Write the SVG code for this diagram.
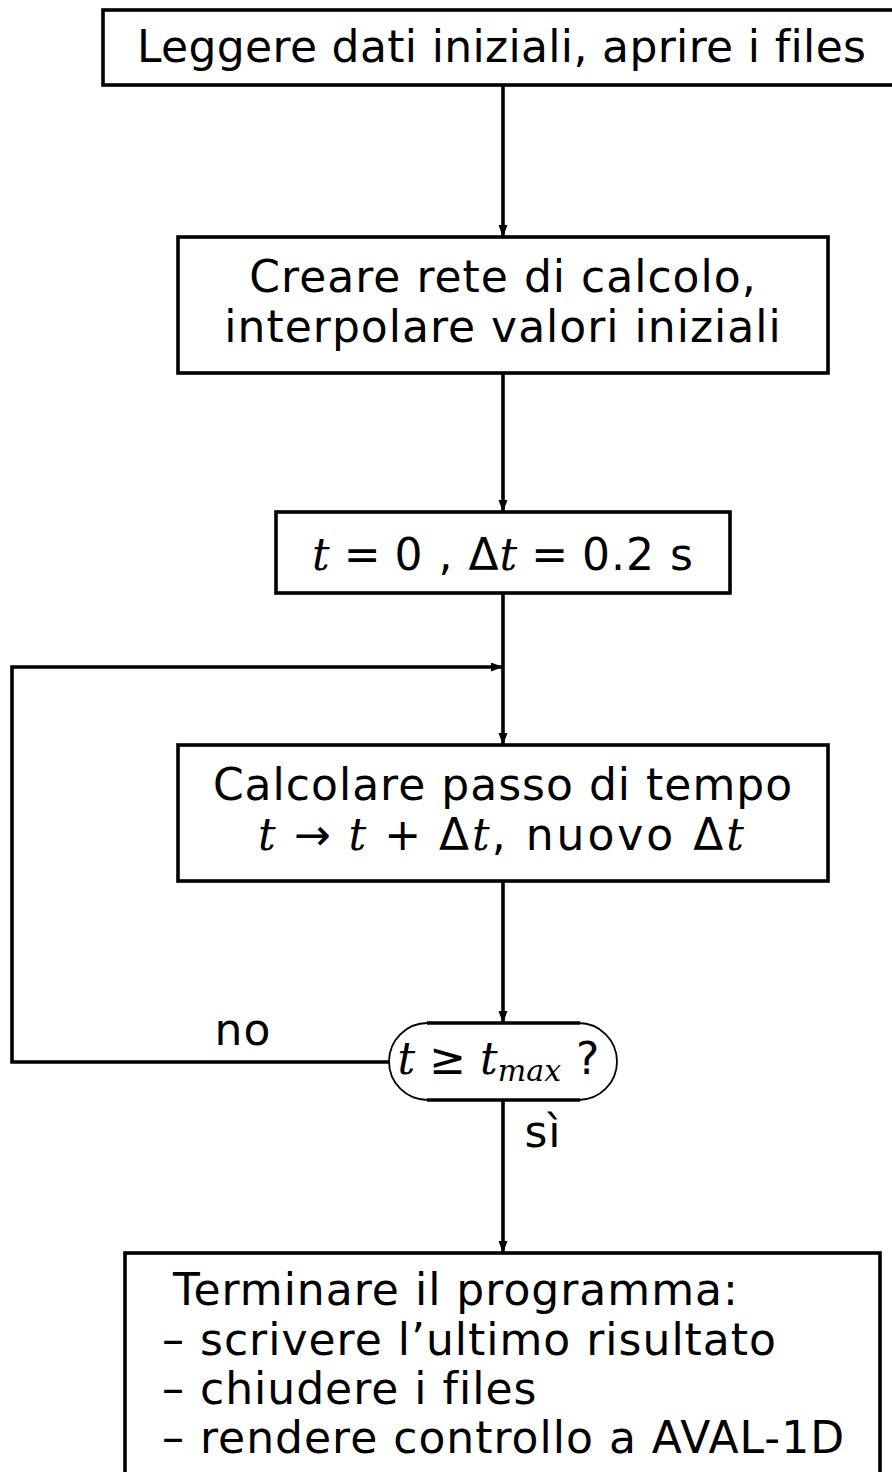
<svg xmlns="http://www.w3.org/2000/svg" width="892" height="1472" viewBox="0 0 892 1472">
<style>
.box{fill:none;stroke:#000;stroke-width:3.6}
.ln{fill:none;stroke:#000;stroke-width:3.6}
.t{font-family:"DejaVu Sans",sans-serif;font-size:44px;letter-spacing:1px;fill:#000}
.m{font-family:"DejaVu Serif",serif;font-style:italic;letter-spacing:0}
.o{font-family:"DejaVu Sans",sans-serif;letter-spacing:0}
</style>
<defs>
<marker id="ah" markerUnits="userSpaceOnUse" markerWidth="14" markerHeight="10" refX="12" refY="4.5" orient="auto">
<path d="M0,0 L12,4.5 L0,9 Z" fill="#000"/>
</marker>
</defs>
<rect width="892" height="1472" fill="#fff"/>
<g id="connectors">
<line class="ln" x1="503" y1="85" x2="503" y2="237" marker-end="url(#ah)"/>
<line class="ln" x1="503" y1="373" x2="503" y2="512" marker-end="url(#ah)"/>
<line class="ln" x1="503" y1="593" x2="503" y2="745" marker-end="url(#ah)"/>
<line class="ln" x1="503" y1="881" x2="503" y2="1023" marker-end="url(#ah)"/>
<line class="ln" x1="503" y1="1100" x2="503" y2="1253" marker-end="url(#ah)"/>
<path class="ln" d="M389,1062 H12 V667 H503" marker-end="url(#ah)"/>
<text class="t" x="243" y="1045" text-anchor="middle">no</text>
<text class="t" x="543" y="1147" text-anchor="middle">sì</text>
</g>
<g id="n1">
<rect class="box" x="103" y="10" width="800" height="75"/>
<text class="t" x="137" y="62" textLength="730">Leggere dati iniziali, aprire i files</text>
</g>
<g id="n2">
<rect class="box" x="178" y="237" width="650" height="136"/>
<text class="t" x="503" y="292" text-anchor="middle">Creare rete di calcolo,</text>
<text class="t" x="503" y="342" text-anchor="middle">interpolare valori iniziali</text>
</g>
<g id="n3">
<rect class="box" x="276" y="512" width="454" height="81"/>
<text class="t" x="503" y="570" text-anchor="middle"><tspan class="m">t</tspan><tspan class="o"> = </tspan>0 , Δ<tspan class="m">t</tspan><tspan class="o"> = </tspan>0.2 s</text>
</g>
<g id="n4">
<rect class="box" x="178" y="745" width="650" height="136"/>
<text class="t" x="503" y="800" text-anchor="middle">Calcolare passo di tempo</text>
<text class="t" x="501" y="850" text-anchor="middle" textLength="486"><tspan class="m">t</tspan><tspan class="o"> → </tspan><tspan class="m">t</tspan><tspan class="o"> + </tspan>Δ<tspan class="m">t</tspan>, nuovo Δ<tspan class="m">t</tspan></text>
</g>
<g id="n5">
<rect x="389" y="1023" width="228" height="77" rx="38.5" ry="38.5" fill="#fff" stroke="#000" stroke-width="1.8"/>
<line x1="427" y1="1023" x2="580" y2="1023" stroke="#000" stroke-width="3.6"/>
<line x1="427" y1="1100" x2="580" y2="1100" stroke="#000" stroke-width="3.6"/>
<text class="t" x="499" y="1074" text-anchor="middle"><tspan class="m">t</tspan><tspan class="o"> ≥ </tspan><tspan class="m">t</tspan><tspan class="m" font-size="30" dy="7">max</tspan><tspan dy="-7"> ?</tspan></text>
</g>
<g id="n6">
<rect class="box" x="125" y="1253" width="755" height="240"/>
<text class="t" x="173" y="1305">Terminare il programma:</text>
<text class="t" x="162" y="1355">– scrivere l’ultimo risultato</text>
<text class="t" x="162" y="1404">– chiudere i files</text>
<text class="t" x="162" y="1453">– rendere controllo a AVAL-1D</text>
</g>
</svg>
